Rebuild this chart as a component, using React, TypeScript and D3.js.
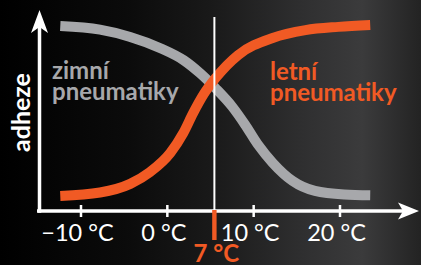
import React from 'react';
import * as d3 from 'd3';

// temperature (°C) / adhesion (0–100)
const winterTemp = [-12.4, -7.8, -4.3, -0.8, 1.9, 3.8, 5.6, 7.5, 9.0, 10.5, 12.2, 14.5, 17.1, 20.5, 23.5];
const winterGrip = [92, 90.2, 86.6, 81, 75, 68.5, 61, 52, 43, 33, 24, 15, 10, 8.2, 7.8];
const summerTemp = [-12.4, -7.8, -4.3, -2.0, 0.35, 1.85, 3.0, 4.2, 5.6, 8.2, 12.2, 16.0, 19.8, 23.5];
const summerGrip = [7.5, 9.2, 13.5, 19.4, 28.9, 38.8, 48.8, 58, 66.2, 77.6, 86.1, 90, 91.6, 92.5];

const tickValues = [-10, 0, 10, 20];
const tickLabels = ['\u221210 °C', '0 °C', '10 °C', '20 °C'];
const markerPos = 5.45;
const markerLabel = '7 °C';
const yTitle = 'adheze';
const winterLabel = ['zimní', 'pneumatiky'];
const summerLabel = ['letní', 'pneumatiky'];

const W = 421;
const H = 265;
const ORANGE = '#f15a24';
const GRAY = '#a7a8ab';
const FONT = 'Lato, "Open Sans", sans-serif';

export default function App() {
  const x = d3.scaleLinear().domain([-10, 20]).range([81, 340]);
  const y = d3.scaleLinear().domain([0, 100]).range([211, 10]);

  const line = d3.line<[number, number]>()
    .x(d => x(d[0]))
    .y(d => y(d[1]))
    .curve(d3.curveMonotoneX);

  const winter = winterTemp.map((t, i) => [t, winterGrip[i]] as [number, number]);
  const summer = summerTemp.map((t, i) => [t, summerGrip[i]] as [number, number]);

  const x0 = 37;
  const xEnd = 419;
  const yAxisX = 39.5;
  const y0 = y(0);
  const yTop = y(100);
  const mx = x(markerPos);

  return (
    <svg width={W} height={H} style={{ position: 'absolute', left: 0, top: 0, display: 'block' }}>
      <defs>
        <linearGradient id="bg" x1="0" x2="1" y1="0" y2="0">
          <stop offset="0" stopColor="#000" />
          <stop offset="0.3" stopColor="#0b0b0b" />
          <stop offset="0.5" stopColor="#191919" />
          <stop offset="0.72" stopColor="#2f2f30" />
          <stop offset="0.86" stopColor="#3b3b3c" />
          <stop offset="1" stopColor="#232323" />
        </linearGradient>
      </defs>
      <rect width={W} height={H} fill="url(#bg)" />

      {/* curves */}
      <path d={line(winter) || ''} fill="none" stroke={GRAY} strokeWidth={10} />
      <path d={line(summer) || ''} fill="none" stroke={ORANGE} strokeWidth={10} />

      {/* 7 °C line */}
      <line x1={mx} x2={mx} y1={17} y2={y0} stroke="#fff" strokeWidth={2} />

      {/* axes */}
      <line x1={x0} x2={xEnd - 10} y1={y0} y2={y0} stroke="#fff" strokeWidth={3.5} />
      <line x1={yAxisX} x2={yAxisX} y1={y0 + 1.75} y2={yTop + 10} stroke="#fff" strokeWidth={3.5} />
      <path d={`M${xEnd},${y0} L${xEnd - 21},${y0 - 8.5} L${xEnd - 16},${y0} L${xEnd - 21},${y0 + 8.5} Z`} fill="#fff" />
      <path d={`M${yAxisX},${yTop} L${yAxisX + 8.5},${yTop + 23} L${yAxisX},${yTop + 17} L${yAxisX - 8.5},${yTop + 23} Z`} fill="#fff" />

      {tickValues.map((v, i) => (
        <g key={v}>
          <line x1={x(v)} x2={x(v)} y1={y0 - 6} y2={y0 + 6} stroke="#fff" strokeWidth={2.5} />
          <text x={x(v) - 3.5} y={241} textAnchor="middle" fill="#fff" fontFamily={FONT} fontSize={23.5}>
            {tickLabels[i]}
          </text>
        </g>
      ))}

      <rect x={mx - 2.2} y={y0 - 1} width={4.4} height={30} fill={ORANGE} />
      <text x={mx + 2} y={262} textAnchor="middle" fill={ORANGE} fontFamily={FONT} fontWeight={700} fontSize={24}>
        {markerLabel}
      </text>

      <text transform={`translate(30,${(73 + 152) / 2}) rotate(-90)`} textAnchor="middle" fill="#fff"
        fontFamily={FONT} fontWeight={700} fontSize={25}>
        {yTitle}
      </text>

      <g fontFamily={FONT} fontWeight={700} fontSize={24}>
        <text x={52} y={79} fill={GRAY}>{winterLabel[0]}</text>
        <text x={52} y={100} fill={GRAY}>{winterLabel[1]}</text>
        <text x={270} y={80} fill={ORANGE}>{summerLabel[0]}</text>
        <text x={270} y={101} fill={ORANGE}>{summerLabel[1]}</text>
      </g>
    </svg>
  );
}
